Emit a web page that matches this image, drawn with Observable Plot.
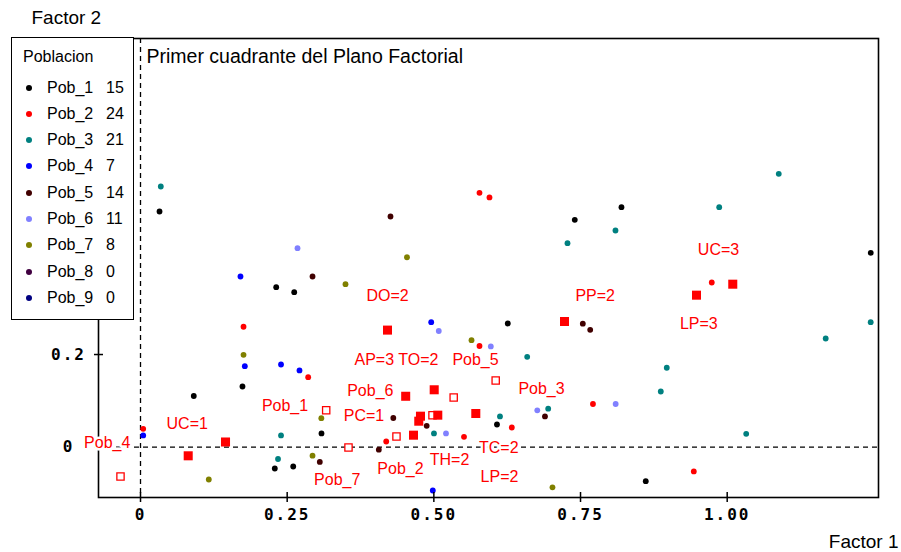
<!DOCTYPE html>
<html>
<head>
<meta charset="utf-8">
<script src="https://cdn.jsdelivr.net/npm/d3@7"></script>
<script src="https://cdn.jsdelivr.net/npm/@observablehq/plot@0.6"></script>
<style>
  body { margin: 0; background: #fff; }
  #wrap { position: relative; width: 901px; height: 552px; font-family: "Liberation Sans", Arial, sans-serif; }
  #legend { position: absolute; left: 11px; top: 37px; width: 123px; height: 283px; box-sizing: border-box;
            border: 1.5px solid #000; background: #fff; font-size: 16px; color: #000; }
  #legend .t { position: absolute; left: 11px; top: 9px; line-height: 20px; }
  #legend .row { position: absolute; left: 0; height: 20px; width: 100%; line-height: 20px; }
  #legend .dot { position: absolute; left: 14px; top: 7px; width: 6px; height: 6px; border-radius: 50%; }
  #legend .nm { position: absolute; left: 35px; top: 0; }
  #legend .ct { position: absolute; left: 94px; top: 0; }
  g[aria-label="x-axis tick label"] text, g[aria-label="y-axis tick label"] text { letter-spacing: 2px; }
</style>
</head>
<body>
<div id="wrap"></div>
<script>
// ---- legend / series definitions ----
const pobNames  = ["Pob_1", "Pob_2", "Pob_3", "Pob_4", "Pob_5", "Pob_6", "Pob_7", "Pob_8", "Pob_9"];
const pobCounts = [15, 24, 21, 7, 14, 11, 8, 0, 0];
const pobColors = ["#000000", "#ff0000", "#008080", "#0000ff", "#400000", "#8080ff", "#808000", "#400040", "#000080"];

// ---- individual points per population [Factor 1, Factor 2] ----
const pob1 = [[0.0324,0.5087],[0.2313,0.3453],[0.2620,0.3346],[0.1738,0.1310],[0.0908,0.1105],[0.3085,0.0296],
              [0.2289,-0.0460],[0.2603,-0.0417],[0.6076,0.0490],[0.6260,0.2670],[0.7402,0.4908],[0.8198,0.5180],
              [1.2447,0.4196],[0.8612,-0.0734]];
const pob2 = [[0.0046,0.0397],[0.1756,0.2599],[0.2858,0.1511],[0.4188,0.0123],[0.5514,0.0224],[0.6329,0.0425],
              [0.5778,0.5491],[0.5948,0.5390],[0.5778,0.2184],[0.7712,0.0932],[0.9431,-0.0524],[0.9737,0.3555]];
const pob3 = [[0.0346,0.5627],[0.2395,0.0253],[0.2344,-0.0255],[0.5002,0.0296],[0.6127,0.0663],[0.6591,0.1951],
              [0.6949,0.0831],[0.7278,0.4403],[0.8096,0.4677],[0.8868,0.1202],[0.8970,0.1714],[0.9864,0.5180],
              [1.0324,0.0289],[1.0879,0.5901],[1.1679,0.2346],[1.2446,0.2698]];
const pob4 = [[0.0046,0.0253],[0.1704,0.3684],[0.1778,0.1748],[0.2395,0.1785],[0.2710,0.1656],[0.4955,0.2698],
              [0.4982,-0.0935]];
const pob5 = [[0.2932,0.3684],[0.3056,-0.0319],[0.4062,-0.0054],[0.4309,0.0630],[0.4878,0.0462],[0.4261,0.4979],
              [0.6894,0.0663],[0.7539,0.2666],[0.7665,0.2534]];
const pob6 = [[0.2676,0.4295],[0.5084,0.2508],[0.5207,0.0296],[0.5971,0.2174],[0.6763,0.0796],[0.8099,0.0932]];
const pob7 = [[0.1756,0.1994],[0.3082,0.0626],[0.2932,-0.0183],[0.1164,-0.0697],[0.3494,0.3518],[0.4542,0.4099],
              [0.5642,0.2309],[0.7022,-0.0866]];
const pob8 = [];
const pob9 = [];

// ---- supplementary modalities (filled squares) ----
const modX = [0.1449, 0.0813, 0.4210, 0.4520, 0.5006, 0.4772, 0.4743, 0.5067, 0.4653, 0.5715, 0.7227, 0.9477, 1.0095];
const modY = [0.0112, -0.0186, 0.2527, 0.1099, 0.1239, 0.0669, 0.0561, 0.0691, 0.0259, 0.0727, 0.2713, 0.3281, 0.3518];

// ---- population centroids (open squares) ----
const centX = [-0.0341, 0.3165, 0.5338, 0.6054, 0.4977, 0.4363, 0.3545];
const centY = [-0.0632, 0.0799, 0.1073, 0.1440, 0.0691, 0.0231, -0.0006];

// ---- red labels ----
const labelText = ["UC=1", "Pob_4", "Pob_1", "DO=2", "AP=3 TO=2", "Pob_5", "Pob_6", "PC=1", "Pob_2",
                   "TH=2", "TC=2", "LP=2", "Pob_7", "Pob_3", "PP=2", "UC=3", "LP=3"];
const labelX = [0.0796, -0.0568, 0.2463, 0.4210, 0.4363, 0.5710, 0.3917, 0.3809, 0.4431,
                0.5267, 0.6107, 0.6119, 0.3353, 0.6835, 0.7750, 0.9852, 0.9516];
const labelY = [0.0512, 0.0086, 0.0885, 0.3259, 0.1893, 0.1882, 0.1224, 0.0684, -0.0475,
                -0.0265, -0.0022, -0.0648, -0.0704, 0.1261, 0.3259, 0.4261, 0.2663];

// ---- axes ----
const xTicks = [0, 0.25, 0.5, 0.75, 1.0];
const yTicks = [0, 0.2];
const xDomain = [-0.0716, 1.2579];
const yDomain = [-0.1086, 0.8821];
const titleText = "Primer cuadrante del Plano Factorial";
const xTitle = "Factor 1";
const yTitle = "Factor 2";

// ---- build tables ----
const series = [pob1, pob2, pob3, pob4, pob5, pob6, pob7, pob8, pob9];
const points = series.flatMap((s, i) => s.map(([x, y]) => ({x, y, pob: pobNames[i]})));
const mods = modX.map((x, i) => ({x, y: modY[i]}));
const cents = centX.map((x, i) => ({x, y: centY[i]}));
const labels = labelText.map((t, i) => ({t, x: labelX[i], y: labelY[i]}));

const fmtX = d => d === 0 ? "0" : d.toFixed(2);
const fmtY = d => d === 0 ? "0" : String(d);
const tickFont = {fontFamily: '"DejaVu Sans Mono", monospace', fontWeight: "bold", fontSize: 16};

const chart = Plot.plot({
  width: 901, height: 552,
  marginLeft: 98, marginRight: 23, marginTop: 38, marginBottom: 55,
  x: {domain: xDomain, label: null},
  y: {domain: yDomain, label: null},
  color: {domain: pobNames, range: pobColors},
  style: {fontFamily: '"Liberation Sans", Arial, sans-serif', fontSize: "16px", background: "white", color: "black"},
  marks: [
    Plot.ruleX([0], {stroke: "#000", strokeWidth: 1.3, strokeDasharray: "5,4"}),
    Plot.ruleY([0], {stroke: "#000", strokeWidth: 1.3, strokeDasharray: "5,4"}),
    Plot.dot(points, {x: "x", y: "y", fill: "pob", r: 2.9}),
    Plot.dot(cents, {x: "x", y: "y", symbol: "square", r: 4.1, fill: "white", stroke: "#ff0000", strokeWidth: 1.3}),
    Plot.dot(mods, {x: "x", y: "y", symbol: "square", r: 5.1, fill: "#ff0000"}),
    Plot.axisX({ticks: xTicks, tickSize: 10, dy: -5, fill: "none", label: null, strokeWidth: 1.5}),
    Plot.axisX({ticks: xTicks, tickSize: 0, tickPadding: 11, tickFormat: fmtX, label: null, ...tickFont}),
    Plot.axisY({ticks: yTicks, tickSize: 9, dx: 5, fill: "none", label: null, strokeWidth: 1.5}),
    Plot.axisY({ticks: yTicks, tickSize: 0, tickPadding: 30, textAnchor: "middle", tickFormat: fmtY, label: null, ...tickFont}),
    Plot.frame({stroke: "#000", strokeWidth: 1.6}),
    Plot.text(labels, {x: "x", y: "y", text: "t", fill: "#ff0000", fontSize: 16,
                       stroke: "white", strokeWidth: 5, paintOrder: "stroke"}),
    Plot.text([titleText], {frameAnchor: "top-left", dx: 48, dy: 18.5, text: d => d, textAnchor: "start",
                            lineAnchor: "middle", fontSize: 19.5}),
    Plot.text([yTitle], {frameAnchor: "top-left", dx: -67, dy: -20.5, text: d => d, textAnchor: "start",
                         lineAnchor: "middle", fontSize: 19}),
    Plot.text([xTitle], {frameAnchor: "bottom-right", dx: 20, dy: 44.5, text: d => d, textAnchor: "end",
                         lineAnchor: "middle", fontSize: 19})
  ]
});

const wrap = document.getElementById("wrap");
wrap.appendChild(chart);

// ---- legend ----
const legend = document.createElement("div");
legend.id = "legend";
const t = document.createElement("div");
t.className = "t";
t.textContent = "Poblacion";
legend.appendChild(t);
pobNames.forEach((name, i) => {
  const row = document.createElement("div");
  row.className = "row";
  row.style.top = (39.5 + 26.3 * i) + "px";
  const dot = document.createElement("span");
  dot.className = "dot";
  dot.style.background = pobColors[i];
  const nm = document.createElement("span");
  nm.className = "nm";
  nm.textContent = name;
  const ct = document.createElement("span");
  ct.className = "ct";
  ct.textContent = pobCounts[i];
  row.appendChild(dot); row.appendChild(nm); row.appendChild(ct);
  legend.appendChild(row);
});
wrap.appendChild(legend);
</script>
</body>
</html>
